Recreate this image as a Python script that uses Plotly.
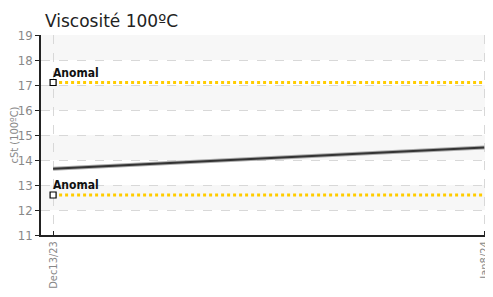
import plotly.graph_objects as go
from datetime import datetime, timedelta

dates = ["2023-12-13", "2024-01-08"]
tick_labels = ["Dec13/23", "Jan8/24"]
viscosity = [13.65, 14.5]
limit_high = [17.1, 17.1]
limit_low = [12.6, 12.6]
limit_label = "Anomal"
y_ticks = list(range(11, 20))

NARROW = "DejaVu Sans Condensed, Liberation Sans Narrow, sans-serif"

fig = go.Figure()

shapes = []
for lo in y_ticks[:-1]:
    if (lo - 11) % 2 == 1:
        shapes.append(dict(type="rect", xref="paper", yref="y", x0=0, x1=1, y0=lo, y1=lo + 1,
                           fillcolor="#f7f7f7", line=dict(width=0), layer="below"))

for lim in (limit_high, limit_low):
    fig.add_trace(go.Scatter(x=dates, y=lim, mode="lines",
                             line=dict(color="#ffcc00", width=3, dash="dot"),
                             hoverinfo="skip", showlegend=False))
    fig.add_trace(go.Scatter(x=[dates[0]], y=[lim[0]], mode="markers",
                             marker=dict(symbol="square", size=6, color="white",
                                         line=dict(color="black", width=1.2)),
                             showlegend=False))

fig.add_trace(go.Scatter(x=dates, y=viscosity, mode="lines",
                         line=dict(color="#aaaaaa", width=4), showlegend=False))
fig.add_trace(go.Scatter(x=dates, y=viscosity, mode="lines",
                         line=dict(color="#333333", width=2), showlegend=False))

annotations = []
for lim in (limit_high, limit_low):
    annotations.append(dict(x=dates[0], y=lim[0], xref="x", yref="y", text="<b>" + limit_label + "</b>",
                            showarrow=False, xanchor="left", yanchor="bottom", xshift=-2, yshift=1,
                            font=dict(family=NARROW, size=12, color="#111111")))

d0 = datetime(2023, 12, 13)
d1 = datetime(2024, 1, 8)
fig.update_layout(
    width=485, height=289,
    margin=dict(l=33, r=6, t=27, b=62, autoexpand=False),
    paper_bgcolor="white", plot_bgcolor="white",
    title=dict(text="Viscosité 100ºC", x=0, xanchor="left", xref="paper", y=0.975, yanchor="top",
               pad=dict(l=4),
               font=dict(family="DejaVu Sans, Verdana, sans-serif", size=17, color="#222222")),
    shapes=shapes,
    annotations=annotations,
    xaxis=dict(type="date", automargin=False,
               range=[d0 - timedelta(hours=17.5), d1 + timedelta(hours=4)],
               tickvals=dates, ticktext=tick_labels, tickangle=-90,
               showgrid=True, gridcolor="#d8d8d8", griddash="dash", gridwidth=1,
               showline=True, linecolor="#222222", linewidth=1.5,
               ticks="inside", ticklen=4, tickcolor="#222222",
               tickfont=dict(family=NARROW, size=11, color="#888888"),
               zeroline=False),
    yaxis=dict(range=[11, 19], tickvals=y_ticks, automargin=False,
               showgrid=True, gridcolor="#d8d8d8", griddash="dash", gridwidth=1,
               showline=True, linecolor="#222222", linewidth=1.5,
               ticks="outside", ticklen=4, tickcolor="#222222",
               tickfont=dict(family=NARROW, size=13, color="#888888"),
               title=dict(text="cSt (100ºC)", standoff=5,
                          font=dict(family=NARROW, size=11, color="#888888")),
               zeroline=False),
)

fig.write_html("out.html")
